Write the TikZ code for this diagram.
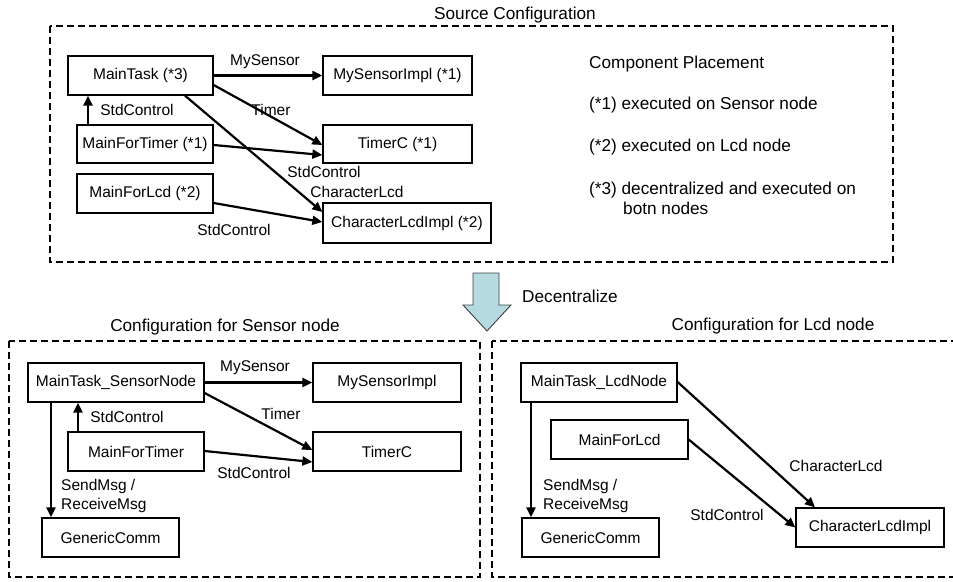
\documentclass[tikz,border=0pt]{standalone}
\usepackage{fontspec}
\setmainfont{Liberation Sans}
\usetikzlibrary{arrows.meta,calc}
\tikzset{
  box/.style={draw, line width=1.3pt, inner sep=0pt, minimum height=39pt, font=\fontsize{15.5}{18}\selectfont},
  lbl/.style={inner sep=0pt, font=\fontsize{15.5}{19}\selectfont},
  big/.style={inner sep=0pt, font=\fontsize{17.2}{20}\selectfont},
  conn/.style={line width=2.2pt, -{Triangle[length=10pt,width=9pt]}},
  frame/.style={line width=2pt, dash pattern=on 7pt off 4pt}
}
\definecolor{arrowfill}{HTML}{B5DADF}
\begin{document}
\begin{tikzpicture}[x=1pt,y=-1pt]
\useasboundingbox (0,0) rectangle (953,581);
\clip (0,0) rectangle (953,581);
% frames
\draw[frame] (50,26) rectangle (893,262);
\draw[frame] (9,341) rectangle (480,577);
\draw[frame] (492,341) rectangle (962,577);
% titles
\node[big] (t1) at (515,15) {Source Configuration};
\node[big] (t2) at (225,327) {Configuration for Sensor node};
\node[big] (t3) at (773,326) {Configuration for Lcd node};
% big arrow
\draw[fill=arrowfill, draw=black!75, line width=0.9pt]
  (473,273) -- (499,273) -- (499,305) -- (511,305) -- (487,331) -- (463,305) -- (473,305) -- cycle;
\node[big, anchor=west] (dec) at (522,296) {Decentralize};

% ---------- source configuration ----------
\node[box, minimum width=145pt] (mt) at (140.5,75.5) {MainTask (*3)};
\node[box, minimum width=149pt] (msi) at (397.5,75.5) {MySensorImpl (*1)};
\node[box, minimum width=149pt, minimum height=38pt] (tc) at (397.5,144) {TimerC (*1)};
\node[box, minimum width=136pt, minimum height=38pt] (mft) at (145,144) {MainForTimer (*1)};
\node[box, minimum width=136pt] (mfl) at (145,193.5) {MainForLcd (*2)};
\node[box, minimum width=168pt, minimum height=40pt] (cli) at (407,223) {CharacterLcdImpl (*2)};

\draw[conn] (mt.east) -- (msi.west);
\draw[conn] ($(mt.east)+(0,9.5)$) -- ($(tc.west)+(0,1)$);
\draw[conn] ($(mt.south)+(44.5,0)$) -- ($(cli.west)+(0,-11)$);
\draw[conn] ($(mft.east)+(0,1)$) -- ($(tc.west)+(0,11)$);
\draw[conn] ($(mft.north)+(-57,0)$) -- ($(mt.south)+(-52.5,0)$);
\draw[conn] ($(mfl.east)+(0,9.5)$) -- ($(cli.west)+(0,-1)$);

\node[lbl] (l1) at (265,62) {MySensor};
\node[lbl] (l2) at (271,110) {Timer};
\node[lbl] (l3) at (357,192) {CharacterLcd};
\node[lbl] (l4) at (324,172) {StdControl};
\node[lbl] (l5) at (137,110) {StdControl};
\node[lbl] (l6) at (234,230) {StdControl};

% legend
\node[big, anchor=west] (g0) at (589,64) {Component Placement};
\node[big, anchor=west] (g1) at (589,105) {(*1) executed on Sensor node};
\node[big, anchor=west] (g2) at (589,147) {(*2) executed on Lcd node};
\node[big, anchor=west] (g3) at (589,190) {(*3) decentralized and executed on};
\node[big, anchor=west] (g4) at (623,208) {botn nodes};

% ---------- sensor node ----------
\node[box, minimum width=176pt] (mts) at (116,382.5) {MainTask\_SensorNode};
\node[box, minimum width=148pt] (msi2) at (387,382.5) {MySensorImpl};
\node[box, minimum width=136pt] (mft2) at (136,451.5) {MainForTimer};
\node[box, minimum width=148pt] (tc2) at (387,451.5) {TimerC};
\node[box, minimum width=137pt] (gc) at (110.5,537.5) {GenericComm};

\draw[conn] (mts.east) -- (msi2.west);
\draw[conn] ($(mts.east)+(0,10.5)$) -- ($(tc2.west)+(0,-1.5)$);
\draw[conn] ($(mft2.east)+(0,-0.5)$) -- ($(tc2.west)+(0,10.5)$);
\draw[conn] ($(mft2.north)+(-58,0)$) -- ($(mts.south)+(-38,0)$);
\draw[conn] ($(mts.south)+(-65,0)$) -- ($(gc.north)+(-59.5,0)$);

\node[lbl] (s1) at (255,368) {MySensor};
\node[lbl] (s2) at (281,414) {Timer};
\node[lbl] (s3) at (254,473) {StdControl};
\node[lbl] (s4) at (127,417) {StdControl};
\node[lbl, anchor=west, align=left] (s5) at (61,495.5) {SendMsg /\\ReceiveMsg};

% ---------- lcd node ----------
\node[box, minimum width=156pt] (mtl) at (599,382.5) {MainTask\_LcdNode};
\node[box, minimum width=137pt] (mfl2) at (619.5,439.5) {MainForLcd};
\node[box, minimum width=137pt] (gc2) at (590.5,537.5) {GenericComm};
\node[box, minimum width=148pt] (cli2) at (870,527.5) {CharacterLcdImpl};

\draw[conn] ($(mtl.east)+(0,-0.5)$) -- ($(cli2.north)+(-55,0)$);
\draw[conn] (mfl2.east) -- (cli2.west);
\draw[conn] ($(mtl.south)+(-68,0)$) -- ($(gc2.north)+(-59.5,0)$);

\node[lbl] (c1) at (836,466) {CharacterLcd};
\node[lbl] (c2) at (727,515) {StdControl};
\node[lbl, anchor=west, align=left] (c3) at (543,495.5) {SendMsg /\\ReceiveMsg};
\end{tikzpicture}
\end{document}
